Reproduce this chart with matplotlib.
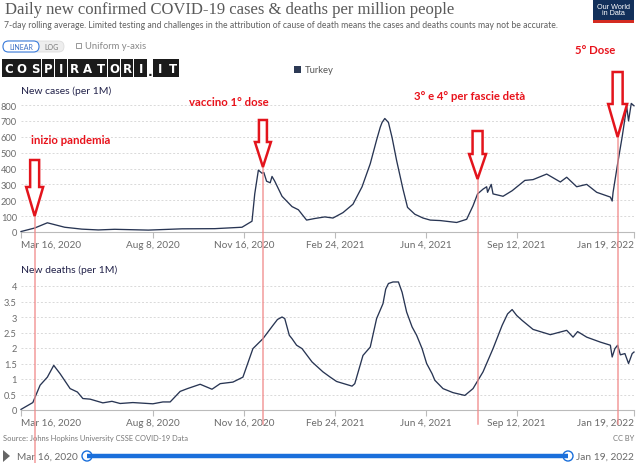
import matplotlib
matplotlib.use('Agg')
import matplotlib.pyplot as plt
import matplotlib.dates as mdates
import matplotlib.transforms as mtransforms
from matplotlib.patches import Rectangle, Polygon, FancyBboxPatch, Circle
from matplotlib.lines import Line2D
import pandas as pd

W, H = 639, 464

# ---------------- data ----------------
case_dates = ["2020-03-16", "2020-03-31", "2020-04-14", "2020-05-03", "2020-05-22", "2020-06-09",
              "2020-06-27", "2020-08-03", "2020-09-09", "2020-10-15", "2020-11-14", "2020-11-25",
              "2020-11-28", "2020-12-02", "2020-12-06", "2020-12-08", "2020-12-11", "2020-12-15",
              "2020-12-17", "2020-12-20", "2020-12-28", "2021-01-08", "2021-01-15", "2021-01-24",
              "2021-02-02", "2021-02-13", "2021-02-22", "2021-03-05", "2021-03-16", "2021-03-26",
              "2021-04-04", "2021-04-11", "2021-04-15", "2021-04-17", "2021-04-20", "2021-04-24",
              "2021-04-28", "2021-05-03", "2021-05-10", "2021-05-15", "2021-05-23", "2021-06-01",
              "2021-06-09", "2021-06-20", "2021-07-08", "2021-07-19", "2021-07-26", "2021-07-31",
              "2021-08-06", "2021-08-10", "2021-08-11", "2021-08-15", "2021-08-17", "2021-08-28",
              "2021-09-07", "2021-09-21", "2021-09-30", "2021-10-15", "2021-10-30", "2021-11-06",
              "2021-11-17", "2021-11-28", "2021-12-09", "2021-12-24", "2021-12-26", "2021-12-27",
              "2022-01-01", "2022-01-06", "2022-01-11", "2022-01-13", "2022-01-16", "2022-01-19"]
case_values = [3, 25, 58, 30, 18, 13,
               17, 12, 20, 21, 30, 68,
               240, 390, 370, 375, 320, 310,
               350, 320, 225, 160, 140, 75,
               85, 95, 88, 122, 175, 285,
               430, 580, 660, 690, 715, 690,
               595, 450, 270, 155, 112, 88,
               75, 72, 60, 80, 165, 240,
               270, 285, 250, 300, 240, 225,
               260, 325, 330, 365, 315, 345,
               285, 300, 250, 220, 195, 250,
               430, 600, 790, 700, 810, 795]

death_dates = ["2020-03-16", "2020-03-29", "2020-04-06", "2020-04-14", "2020-04-21", "2020-04-28",
               "2020-05-09", "2020-05-17", "2020-05-23", "2020-05-31", "2020-06-14", "2020-06-24",
               "2020-07-03", "2020-07-17", "2020-08-08", "2020-08-19", "2020-08-27", "2020-09-07",
               "2020-09-15", "2020-09-29", "2020-10-12", "2020-10-21", "2020-11-04", "2020-11-15",
               "2020-11-26", "2020-12-07", "2020-12-18", "2020-12-23", "2020-12-28", "2020-12-31",
               "2021-01-05", "2021-01-08", "2021-01-13", "2021-01-19", "2021-01-30", "2021-02-11",
               "2021-02-19", "2021-02-26", "2021-03-15", "2021-03-18", "2021-03-27", "2021-04-04",
               "2021-04-11", "2021-04-18", "2021-04-21", "2021-04-24", "2021-04-29", "2021-05-05",
               "2021-05-09", "2021-05-14", "2021-05-20", "2021-05-25", "2021-05-31", "2021-06-05",
               "2021-06-11", "2021-06-14", "2021-06-23", "2021-07-04", "2021-07-17", "2021-07-26",
               "2021-08-06", "2021-08-17", "2021-08-27", "2021-09-02", "2021-09-07", "2021-09-12",
               "2021-09-18", "2021-09-30", "2021-10-19", "2021-11-06", "2021-11-13", "2021-11-18",
               "2021-11-28", "2021-12-13", "2021-12-24", "2021-12-26", "2021-12-29", "2022-01-01",
               "2022-01-04", "2022-01-09", "2022-01-13", "2022-01-17", "2022-01-19"]
death_values = [0.02, 0.24, 0.8, 1.06, 1.44, 1.17,
                0.69, 0.58, 0.37, 0.35, 0.23, 0.28,
                0.21, 0.24, 0.2, 0.26, 0.26, 0.6,
                0.69, 0.83, 0.67, 0.85, 0.9, 1.06,
                1.98, 2.3, 2.73, 2.92, 3.0, 2.95,
                2.41, 2.3, 2.09, 1.98, 1.55, 1.23,
                1.06, 0.92, 0.77, 0.85, 1.76, 2.03,
                2.95, 3.43, 3.9, 4.08, 4.13, 4.13,
                3.8, 3.16, 2.68, 2.41, 1.98, 1.5,
                1.17, 0.96, 0.69, 0.56, 0.47, 0.69,
                1.23, 1.98, 2.73, 3.1, 3.24, 3.05,
                2.89, 2.6, 2.43, 2.57, 2.35, 2.53,
                2.35, 2.19, 2.09, 1.71, 1.98, 2.09,
                1.78, 1.82, 1.5, 1.82, 1.87]

x_ticks = ["2020-03-16", "2020-08-08", "2020-11-16", "2021-02-24", "2021-06-04", "2021-09-12", "2022-01-19"]
x_tick_labels = ["Mar 16, 2020", "Aug 8, 2020", "Nov 16, 2020", "Feb 24, 2021", "Jun 4, 2021",
                 "Sep 12, 2021", "Jan 19, 2022"]
case_yticks = [0, 100, 200, 300, 400, 500, 600, 700, 800]
death_yticks = [0, 0.5, 1, 1.5, 2, 2.5, 3, 3.5, 4]
death_ytick_labels = ["0", "0.5", "1", "1.5", "2", "2.5", "3", "3.5", "4"]

event_dates = ["2020-03-31", "2020-12-07", "2021-07-31", "2022-01-01"]
event_labels = ["inizio pandemia", "vaccino 1° dose", "3° e 4° per fascie detà", "5° Dose"]

# ---------------- styles ----------------
UI = 'Lato'
LINE_C = '#283553'
GRAY = '#6b6b6b'
RED = '#e8121b'

fig = plt.figure(figsize=(W / 100, H / 100), dpi=100)
fig.patch.set_facecolor('white')
PX = mtransforms.Affine2D().scale(1 / W, -1 / H).translate(0, 1) + fig.transFigure


def axes_px(x0, x1, ytop, ybot):
    return fig.add_axes([x0 / W, 1 - ybot / H, (x1 - x0) / W, (ybot - ytop) / H])


xmin = mdates.date2num(pd.Timestamp("2020-03-16"))
xmax = mdates.date2num(pd.Timestamp("2022-01-19"))
tick_nums = [mdates.date2num(pd.Timestamp(d)) for d in x_ticks]


def style_axis(ax, yticks, ylabels):
    ax.set_xlim(xmin, xmax)
    ax.set_ylim(yticks[0], yticks[-1])
    for s in ['top', 'right', 'left']:
        ax.spines[s].set_visible(False)
    ax.spines['bottom'].set_color('#bbbbbb')
    ax.spines['bottom'].set_linewidth(0.8)
    ax.set_yticks(yticks)
    ax.set_yticklabels(ylabels, fontfamily=UI, fontsize=6.7, color=GRAY)
    ax.tick_params(axis='y', length=0, pad=3)
    for yv in yticks[1:]:
        ax.axhline(yv, color='#d9d9d9', lw=0.7, ls=(0, (2, 2)), zorder=0)
    ax.set_xticks(tick_nums)
    ax.set_xticklabels(x_tick_labels, fontfamily=UI, fontsize=7.2, color=GRAY)
    ax.tick_params(axis='x', length=4, color='#bbbbbb', width=0.8, pad=1.5)
    labs = ax.get_xticklabels()
    labs[0].set_ha('left')
    labs[-1].set_ha('right')


ax1 = axes_px(21, 634, 106, 233)
ax1.plot([mdates.date2num(pd.Timestamp(d)) for d in case_dates], case_values,
         color=LINE_C, lw=0.95, clip_on=False, zorder=3)
style_axis(ax1, case_yticks, [str(v) for v in case_yticks])

ax2 = axes_px(21, 634, 287, 411)
ax2.plot([mdates.date2num(pd.Timestamp(d)) for d in death_dates], death_values,
         color=LINE_C, lw=0.95, clip_on=False, zorder=3)
style_axis(ax2, death_yticks, death_ytick_labels)

fig.text(21 / W, 1 - 91 / H, "New cases (per 1M)", fontfamily=UI, fontsize=7.5,
         color='#22224a', va='center', ha='left')
fig.text(21 / W, 1 - 270 / H, "New deaths (per 1M)", fontfamily=UI, fontsize=7.5,
         color='#22224a', va='center', ha='left')

# ---------------- header ----------------
fig.text(5 / W, 1 - 10 / H, "Daily new confirmed COVID-19 cases & deaths per million people",
         fontfamily='Liberation Serif', fontsize=12, color='#5a5a5a', va='center', ha='left')
fig.text(4 / W, 1 - 25 / H,
         "7-day rolling average. Limited testing and challenges in the attribution of cause of death means the cases and deaths counts may not be accurate.",
         fontfamily=UI, fontsize=6.2, color='#5f5f5f', va='center', ha='left')

# OWID logo
fig.add_artist(Rectangle((593, 0), 41, 24, transform=PX, facecolor='#12305a', edgecolor='none'))
fig.add_artist(Rectangle((593, 21), 41, 3, transform=PX, facecolor='#d42b21', edgecolor='none'))
fig.text(613.5 / W, 1 - 10.5 / H, "Our World\nin Data", fontfamily='Liberation Sans', fontsize=5.2,
         color='white', ha='center', va='center', linespacing=0.95)

# LINEAR / LOG buttons
fig.add_artist(FancyBboxPatch((3, 42), 61, 11, boxstyle="round,pad=0,rounding_size=5.5", transform=PX,
                              facecolor='#eeeeee', edgecolor='#dddddd', lw=0.6))
fig.add_artist(FancyBboxPatch((3, 42), 36, 11, boxstyle="round,pad=0,rounding_size=5.5", transform=PX,
                              facecolor='white', edgecolor='#3b7ddd', lw=0.8))
fig.text(21 / W, 1 - 47.5 / H, "LINEAR", fontfamily=UI, fontsize=5.0, color='#3b6fc4',
         ha='center', va='center')
fig.text(51.5 / W, 1 - 47.5 / H, "LOG", fontfamily=UI, fontsize=5.0, color='#777777',
         ha='center', va='center')
fig.add_artist(Rectangle((76, 44), 5, 5, transform=PX, facecolor='white', edgecolor='#888888', lw=0.6))
fig.text(85 / W, 1 - 47 / H, "Uniform y-axis", fontfamily=UI, fontsize=6.8, color='#888888',
         ha='left', va='center')

# COSPIRATORI.IT watermark
letters1 = "COSPIRATORI"
bw = 13.2
for i, ch in enumerate(letters1):
    x0 = 2 + i * bw
    fig.add_artist(Rectangle((x0, 60), bw - 0.6, 18, transform=PX, facecolor='#1b1b1b', edgecolor='none'))
    fig.text((x0 + bw / 2) / W, 1 - 69.5 / H, ch, fontfamily='DejaVu Sans', fontweight='bold',
             fontsize=8.5, color='white', ha='center', va='center')
fig.text(150 / W, 1 - 73 / H, ".", fontfamily='DejaVu Sans', fontweight='bold', fontsize=9,
         color='#1b1b1b', ha='center', va='center')
for i, ch in enumerate("IT"):
    x0 = 153 + i * bw
    fig.add_artist(Rectangle((x0, 60), bw - 0.6, 18, transform=PX, facecolor='#1b1b1b', edgecolor='none'))
    fig.text((x0 + bw / 2) / W, 1 - 69.5 / H, ch, fontfamily='DejaVu Sans', fontweight='bold',
             fontsize=8.5, color='white', ha='center', va='center')

# legend
fig.add_artist(Rectangle((294, 67), 7, 7, transform=PX, facecolor='#2c3a55', edgecolor='none'))
fig.text(305 / W, 1 - 71 / H, "Turkey", fontfamily=UI, fontsize=6.8, color='#555555',
         ha='left', va='center')

# ---------------- events: red lines, arrows, labels ----------------
arrow_geo = [  # top, head start, tip, shaft half width, head half width
    (161, 188, 217, 4.5, 8.5),
    (121, 143, 168, 4.0, 8.0),
    (132, 155, 180, 5.0, 8.5),
    (73, 105, 138, 5.0, 9.5),
]
line_bottom = [464, 425, 425, 425]
label_pos = [(71, 140), (229, 103), (470, 97), (595, 51)]

fig.canvas.draw()
for d, geo, lb, lab, (lx, ly) in zip(event_dates, arrow_geo, line_bottom, event_labels, label_pos):
    xd = ax1.transData.transform((mdates.date2num(pd.Timestamp(d)), 0))[0]
    xp = xd * W / fig.bbox.width
    top, hs, tip, sw, hw = geo
    fig.add_artist(Line2D([xp, xp], [tip, lb], transform=PX, color='#f08a8a', lw=1.1, alpha=0.85, zorder=5))
    poly = [(xp - sw, top), (xp + sw, top), (xp + sw, hs), (xp + hw, hs), (xp, tip),
            (xp - hw, hs), (xp - sw, hs)]
    fig.add_artist(Polygon(poly, closed=True, transform=PX, facecolor='white', edgecolor='#e3141c',
                           lw=1.8, joinstyle='miter', zorder=6))
    fig.text(lx / W, 1 - ly / H, lab, fontfamily='Lato', fontweight='bold', fontsize=8.2,
             color=RED, ha='center', va='center')

# ---------------- footer ----------------
fig.text(3 / W, 1 - 439 / H, "Source: Johns Hopkins University CSSE COVID-19 Data", fontfamily=UI,
         fontsize=5.4, color='#777777', ha='left', va='center')
fig.text(634 / W, 1 - 439 / H, "CC BY", fontfamily=UI, fontsize=5.4, color='#777777',
         ha='right', va='center')

fig.add_artist(Polygon([(3, 451), (3, 463), (10, 457)], closed=True, transform=PX,
                       facecolor='#666666', edgecolor='none'))
fig.text(17 / W, 1 - 457 / H, "Mar 16, 2020", fontfamily=UI, fontsize=7.3, color='#6b6b6b',
         ha='left', va='center')
fig.add_artist(Line2D([87, 568], [457, 457], transform=PX, color='#1a6fdb', lw=3.2,
                      solid_capstyle='butt'))
for cx in (87, 568):
    fig.add_artist(Circle((cx, 457), 5, transform=PX, facecolor='white', edgecolor='#1a6fdb', lw=1.0))
fig.text(634 / W, 1 - 457 / H, "Jan 19, 2022", fontfamily=UI, fontsize=7.3, color='#6b6b6b',
         ha='right', va='center')

fig.savefig('out.png', dpi=100, facecolor='white')
